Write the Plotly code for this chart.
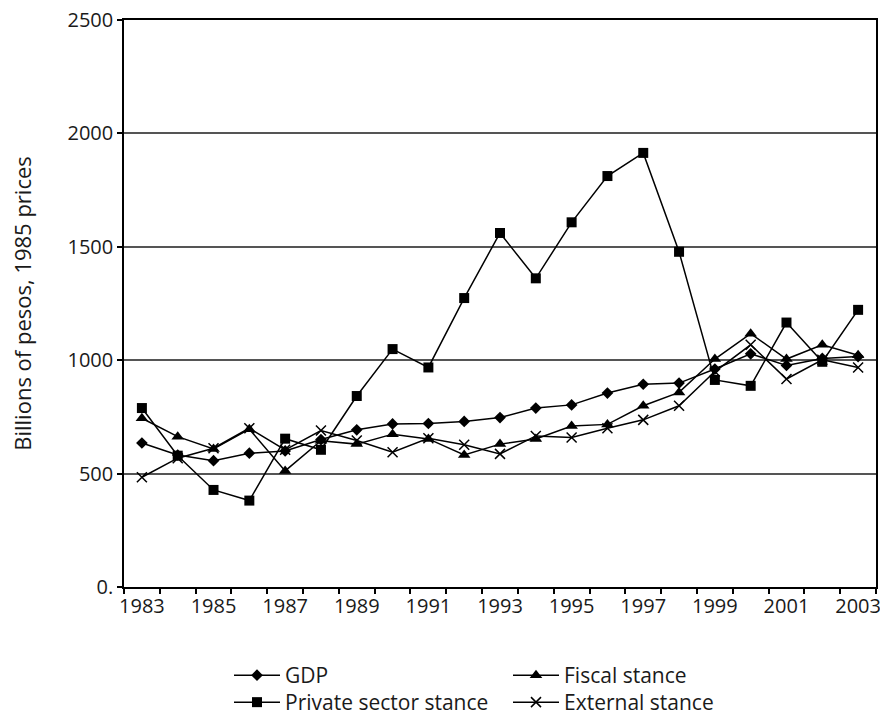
import plotly.graph_objects as go

years = list(range(1983, 2004))
gdp = [635, 582, 557, 590, 600, 650, 693, 719, 721, 730, 747, 789, 803, 855, 894, 899, 961, 1028, 977, 1008, 1016]
private_sector = [789, 579, 428, 381, 654, 605, 842, 1049, 968, 1274, 1561, 1361, 1608, 1812, 1914, 1478, 913, 887, 1166, 993, 1222]
fiscal = [744, 663, 609, 696, 512, 645, 630, 674, 653, 582, 630, 653, 710, 717, 799, 858, 1005, 1117, 1005, 1068, 1022]
external = [484, 568, 612, 700, 605, 690, 646, 594, 656, 627, 587, 666, 659, 700, 737, 799, 950, 1068, 917, 1002, 968]

y_ticks = [0, 500, 1000, 1500, 2000, 2500]
y_tick_text = ["0.", "500", "1000", "1500", "2000", "2500"]
x_tick_years = list(range(1983, 2004, 2))

FONT = "Open Sans"
TXT = "#1a1a1a"
line_style = dict(color="black", width=1.5)

fig = go.Figure()
fig.add_trace(go.Scatter(x=years, y=gdp, name="GDP", mode="lines+markers",
                         line=line_style, marker=dict(symbol="diamond", size=9, color="black"),
                         legend="legend", showlegend=True))
fig.add_trace(go.Scatter(x=years, y=private_sector, name="Private sector stance", mode="lines+markers",
                         line=line_style, marker=dict(symbol="square", size=10, color="black"),
                         legend="legend2", showlegend=True))
fig.add_trace(go.Scatter(x=years, y=fiscal, name="Fiscal stance", mode="lines+markers",
                         line=line_style, marker=dict(symbol="triangle-up", size=11, color="black"),
                         legend="legend3", showlegend=True))
fig.add_trace(go.Scatter(x=years, y=external, name="External stance", mode="lines+markers",
                         line=line_style, marker=dict(symbol="x-thin", size=10, color="black",
                                                      line=dict(color="black", width=1.5)),
                         legend="legend4", showlegend=True))

legend_common = dict(orientation="v", xanchor="left", yanchor="top",
                     font=dict(family=FONT, size=21, color=TXT), bgcolor="rgba(0,0,0,0)",
                     itemwidth=46, tracegroupgap=0)

def lx(px):
    return (px - 124) / 752

def ly(px):
    return -(px - 587) / 567

fig.update_layout(
    width=880, height=719,
    showlegend=True,
    margin=dict(l=124, r=4, t=20, b=132, autoexpand=False),
    plot_bgcolor="white", paper_bgcolor="white",
    font=dict(family=FONT, size=20, color=TXT),
    xaxis=dict(range=[1982.5, 2003.5], tickmode="array", tickvals=x_tick_years,
               ticktext=[str(y) for y in x_tick_years], ticks="", showgrid=False,
               showline=True, linecolor="black", linewidth=1.5, mirror=True,
               tickfont=dict(family=FONT, size=20, color=TXT), tickangle=0,
               ticklabeloverflow="allow",
               minor=dict(tick0=1982.5, dtick=1, ticks="outside", ticklen=5, tickcolor="black",
                          tickwidth=1.5, showgrid=False),
               zeroline=False),
    yaxis=dict(range=[0, 2500], tickmode="array", tickvals=y_ticks, ticktext=y_tick_text,
               ticks="outside", ticklen=5, tickcolor="black", tickwidth=1.5,
               showgrid=True, gridcolor="#555", gridwidth=1.5,
               showline=True, linecolor="black", linewidth=1.5, mirror=True,
               tickfont=dict(family=FONT, size=20, color=TXT),
               title=dict(text="Billions of pesos, 1985 prices", font=dict(family=FONT, size=22, color=TXT),
                          standoff=30),
               zeroline=False),
    legend=dict(x=lx(229), y=ly(655), **legend_common),
    legend2=dict(x=lx(229), y=ly(682), **legend_common),
    legend3=dict(x=lx(508), y=ly(655), **legend_common),
    legend4=dict(x=lx(508), y=ly(682), **legend_common),
)

fig.write_html("out.html", config={"displayModeBar": False},
               post_script="document.body.style.margin='0';document.body.style.padding='0';")
